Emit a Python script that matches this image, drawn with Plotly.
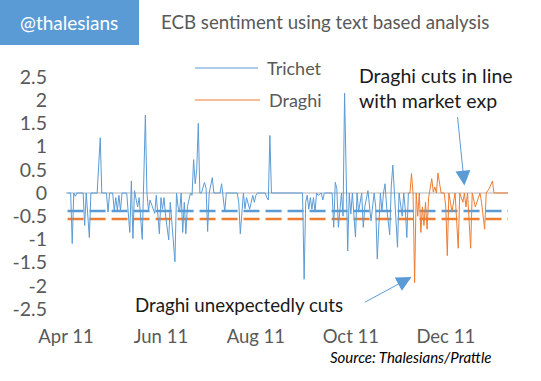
import plotly.graph_objects as go

# ---------------- data ----------------
trichet_dates = [
    "2011-04-02", "2011-04-04", "2011-04-05", "2011-04-06", "2011-04-07", "2011-04-08",
    "2011-04-12", "2011-04-13", "2011-04-14", "2011-04-16", "2011-04-17", "2011-04-21",
    "2011-04-23", "2011-04-24", "2011-04-27", "2011-04-28", "2011-04-29", "2011-05-01",
    "2011-05-02", "2011-05-03", "2011-05-04", "2011-05-05", "2011-05-06", "2011-05-07",
    "2011-05-10", "2011-05-12", "2011-05-13", "2011-05-14", "2011-05-15", "2011-05-17",
    "2011-05-18", "2011-05-20", "2011-05-22", "2011-05-23", "2011-05-24", "2011-05-25",
    "2011-05-28", "2011-05-29", "2011-05-31", "2011-06-01", "2011-06-02", "2011-06-03",
    "2011-06-04", "2011-06-06", "2011-06-07", "2011-06-08", "2011-06-10", "2011-06-11",
    "2011-06-12", "2011-06-13", "2011-06-14", "2011-06-15", "2011-06-16", "2011-06-17",
    "2011-06-18", "2011-06-20", "2011-06-21", "2011-06-22", "2011-06-23", "2011-06-24",
    "2011-06-25", "2011-06-26", "2011-06-27", "2011-06-29", "2011-06-30", "2011-07-01",
    "2011-07-02", "2011-07-04", "2011-07-05", "2011-07-09", "2011-07-10", "2011-07-12",
    "2011-07-13", "2011-07-20", "2011-07-21", "2011-07-22", "2011-07-24", "2011-07-25",
    "2011-07-26", "2011-07-28", "2011-07-30", "2011-07-31", "2011-08-01", "2011-08-02",
    "2011-08-07", "2011-08-08", "2011-08-09", "2011-08-10", "2011-08-11", "2011-08-31",
    "2011-09-01", "2011-09-02", "2011-09-03", "2011-09-04", "2011-09-05", "2011-09-06",
    "2011-09-07", "2011-09-08", "2011-09-09", "2011-09-10", "2011-09-12", "2011-09-13",
    "2011-09-14", "2011-09-19", "2011-09-20", "2011-09-21", "2011-09-22", "2011-09-23",
    "2011-09-25", "2011-09-26", "2011-09-27", "2011-09-29", "2011-09-30", "2011-10-01",
    "2011-10-02", "2011-10-04", "2011-10-05", "2011-10-06", "2011-10-08", "2011-10-09",
    "2011-10-10", "2011-10-12", "2011-10-13", "2011-10-14", "2011-10-16", "2011-10-17",
    "2011-10-18", "2011-10-20", "2011-10-21", "2011-10-22", "2011-10-23", "2011-10-24",
    "2011-10-26", "2011-10-27", "2011-10-28", "2011-10-29", "2011-10-31", "2011-11-01",
    "2011-11-03", "2011-11-04", "2011-11-05", "2011-11-06", "2011-11-07",
]
trichet_values = [
    0, 0, -1.09, 0, -0.07, 0,
    0, -0.70, 0, -0.96, 0, 0,
    1.19, 0, 0, -0.41, 0, 0,
    -0.38, -0.10, -0.38, -0.05, -0.38, 0,
    0, -0.85, 0.26, -0.98, 0.05, -0.30,
    -0.10, -1.00, 1.68, 0, -0.38, -0.15,
    -0.44, -0.05, -0.88, -0.10, -0.35, -0.10,
    -0.50, -1.01, -0.20, -0.60, -1.48, 0,
    -0.30, -0.40, 0, -0.85, -0.20, -0.88,
    -0.30, 0, -0.05, 0.72, 0.20, 0.50,
    1.50, 0, 0, 0.23, 0.10, -0.83,
    0, 0.33, 0, 0, 0.20, -0.40,
    0, 0, -0.20, -0.88, 0, -0.34,
    -0.10, -0.35, -0.05, -0.20, -0.05, 0,
    0, -0.10, -0.15, 1.24, 0, 0,
    -1.86, -0.20, -0.05, -0.35, -0.10, -0.35,
    -0.10, -0.41, 0, -0.05, 0, -0.15,
    0, 0, -0.74, 0.23, 0.10, -0.74,
    0, -0.50, 2.15, -1.25, 0, -0.45,
    0, -0.95, 0, -0.40, 0, -0.74,
    -0.30, 0.05, -0.30, -0.60, 0, -0.30,
    -1.42, 0, -0.40, 0, 0.20, -0.30,
    -0.90, 0.15, 0.60, 0, -1.17, 0,
    -0.50, 0, -0.35, -0.96, 0,
]

draghi_dates = [
    "2011-11-07", "2011-11-08", "2011-11-09", "2011-11-10", "2011-11-11", "2011-11-12",
    "2011-11-13", "2011-11-14", "2011-11-15", "2011-11-16", "2011-11-17", "2011-11-18",
    "2011-11-19", "2011-11-20", "2011-11-22", "2011-11-23", "2011-11-24", "2011-11-25",
    "2011-11-26", "2011-11-27", "2011-11-28", "2011-11-30", "2011-12-01", "2011-12-02",
    "2011-12-03", "2011-12-04", "2011-12-05", "2011-12-07", "2011-12-09", "2011-12-10",
    "2011-12-12", "2011-12-13", "2011-12-14", "2011-12-15", "2011-12-16", "2011-12-17",
    "2011-12-18", "2011-12-20", "2011-12-22", "2011-12-23", "2011-12-24", "2011-12-26",
    "2011-12-27", "2011-12-29", "2011-12-31", "2012-01-01", "2012-01-10",
]
draghi_values = [
    0, 0, 0.42, 0, -1.93, 0,
    -0.50, 0, -0.85, -0.30, -0.70, -0.20,
    -0.78, -0.10, 0.31, 0.02, 0.13, 0.0,
    0.43, 0.16, 0, 0, -0.30, -1.35,
    0, -0.20, -0.40, 0, -1.19, 0,
    -0.20, 0, -0.30, 0, -0.55, -1.19,
    0, -0.30, -0.10, 0, -0.20, -0.78,
    0, 0.10, 0.26, 0, 0,
]

trichet_average = -0.39
draghi_average = -0.56

x_tick_dates = ["2011-04-01", "2011-06-01", "2011-08-01", "2011-10-01", "2011-12-01"]
x_tick_labels = ["Apr 11", "Jun 11", "Aug 11", "Oct 11", "Dec 11"]
y_tick_values = [2.5, 2, 1.5, 1, 0.5, 0, -0.5, -1, -1.5, -2, -2.5]
y_tick_labels = ["2.5", "2", "1.5", "1", "0.5", "0", "-0.5", "-1", "-1.5", "-2", "-2.5"]

# ---------------- style ----------------
BLUE = "#5B9BD5"
ORANGE = "#ED7D31"
GREY_TXT = "#595959"
FONT = "Lato"
W, H = 541, 381
ML, MR, MT, MB = 66, 33, 77, 72


def px(x):
    return (x - ML) / (W - ML - MR)


def py(y):
    return (H - MB - y) / (H - MT - MB)


fig = go.Figure()

span = [trichet_dates[0], draghi_dates[-1]]
fig.add_trace(go.Scatter(x=span, y=[trichet_average] * 2, mode="lines",
                         line=dict(color=BLUE, width=2.5, dash="16px,6px"),
                         showlegend=False, hoverinfo="skip"))
fig.add_trace(go.Scatter(x=span, y=[draghi_average] * 2, mode="lines",
                         line=dict(color=ORANGE, width=2.5, dash="16px,6px"),
                         showlegend=False, hoverinfo="skip"))
fig.add_trace(go.Scatter(x=trichet_dates, y=trichet_values, mode="lines", name="Trichet",
                         line=dict(color=BLUE, width=1), showlegend=False))
fig.add_trace(go.Scatter(x=draghi_dates, y=draghi_values, mode="lines", name="Draghi",
                         line=dict(color=ORANGE, width=1), showlegend=False))

shapes = [
    dict(type="rect", xref="paper", yref="paper", x0=px(0), x1=px(139), y0=py(45), y1=py(0),
         fillcolor=BLUE, line=dict(width=0), layer="below"),
    dict(type="line", xref="paper", yref="paper", x0=px(195), x1=px(258), y0=py(68), y1=py(68),
         line=dict(color=BLUE, width=1)),
    dict(type="line", xref="paper", yref="paper", x0=px(195), x1=px(260), y0=py(100), y1=py(100),
         line=dict(color=ORANGE, width=1)),
]

annotations = [
    dict(text="@thalesians", xref="paper", yref="paper", x=px(69), y=py(22),
         xanchor="center", yanchor="middle", showarrow=False,
         font=dict(family=FONT, size=19, color="white")),
    dict(text="ECB sentiment using text based analysis", xref="paper", yref="paper",
         x=px(159), y=py(22), xanchor="left", yanchor="middle", showarrow=False,
         font=dict(family=FONT, size=18.7, color=GREY_TXT)),
    dict(text="Trichet", xref="paper", yref="paper", x=px(265), y=py(68),
         xanchor="left", yanchor="middle", showarrow=False,
         font=dict(family=FONT, size=18, color=GREY_TXT)),
    dict(text="Draghi", xref="paper", yref="paper", x=px(267), y=py(100),
         xanchor="left", yanchor="middle", showarrow=False,
         font=dict(family=FONT, size=18, color=GREY_TXT)),
    dict(text="Draghi cuts in line<br>with market exp", xref="paper", yref="paper",
         x=px(357), y=py(88), xanchor="left", yanchor="middle", align="left", showarrow=False,
         font=dict(family=FONT, size=19.5, color="#1a1a1a")),
    dict(text="Draghi unexpectedly cuts", xref="paper", yref="paper",
         x=px(133), y=py(305), xanchor="left", yanchor="middle", showarrow=False,
         font=dict(family=FONT, size=18.7, color="#1a1a1a")),
    dict(text="Source: Thalesians/Prattle", xref="paper", yref="paper",
         x=px(493), y=py(357), xanchor="right", yanchor="middle", showarrow=False,
         font=dict(family=FONT, size=15, color="black", style="italic")),
    # arrows
    dict(text="", x="2011-12-13", y=0.16, xref="x", yref="y", ax=-7, ay=-70,
         showarrow=True, arrowhead=2, arrowsize=3, arrowwidth=1, arrowcolor=BLUE, standoff=0),
    dict(text="", x="2011-11-09", y=-1.81, xref="x", yref="y", ax=-48, ay=26,
         showarrow=True, arrowhead=2, arrowsize=3, arrowwidth=1, arrowcolor=BLUE, standoff=0),
]

fig.update_layout(
    width=W, height=H,
    margin=dict(l=ML, r=MR, t=MT, b=MB),
    paper_bgcolor="white", plot_bgcolor="white",
    font=dict(family=FONT, size=18, color=GREY_TXT),
    shapes=shapes, annotations=annotations,
    showlegend=False,
    xaxis=dict(type="date", range=["2011-04-01", "2012-01-10"],
               tickvals=x_tick_dates, ticktext=x_tick_labels,
               showgrid=False, zeroline=False, showline=False, ticks="",
               ticklabelstandoff=14, tickfont=dict(family=FONT, size=18.5, color=GREY_TXT)),
    yaxis=dict(range=[-2.5, 2.5], tickvals=y_tick_values, ticktext=y_tick_labels,
               showgrid=False, zeroline=True, zerolinecolor="#D9D9D9", zerolinewidth=2,
               showline=False, ticks="", ticklabelstandoff=18,
               tickfont=dict(family=FONT, size=19.5, color=GREY_TXT)),
)

fig.write_html("out.html", config={"displayModeBar": False},
               post_script="document.body.style.margin='0px';")
